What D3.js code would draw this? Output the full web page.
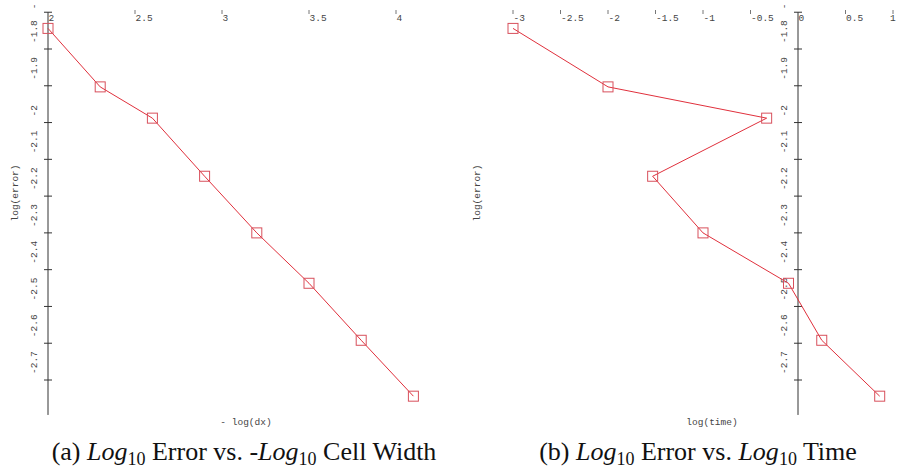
<!DOCTYPE html>
<html>
<head>
<meta charset="utf-8">
<script src="https://cdn.jsdelivr.net/npm/d3@7"></script>
<style>
  body { margin: 0; background: #fff; }
  svg { display: block; }
  .tick-label { font-family: "Liberation Mono", "DejaVu Sans Mono", monospace; font-size: 9.5px; fill: #444; }
  .caption { font-family: "Liberation Serif", "DejaVu Serif", serif; font-size: 26px; fill: #111; }
</style>
</head>
<body>
<div id="chart"></div>
<script>
// values
const negLogDx = [2, 2.3, 2.6, 2.9, 3.2, 3.5, 3.8, 4.1];
const logError = [-1.744, -1.903, -1.988, -2.146, -2.30, -2.437, -2.592, -2.744];
const logTime = [-3.0, -2.0, -0.33, -1.53, -1.0, -0.10, 0.25, 0.86];

const yTicks = [-1.7, -1.8, -1.9, -2, -2.1, -2.2, -2.3, -2.4, -2.5, -2.6, -2.7];
const xTicksA = [2, 2.5, 3, 3.5, 4];
const xTicksB = [-3, -2.5, -2, -1.5, -1, -0.5, 0, 0.5, 1];

const width = 897, height = 469;
const lineColor = "#e0303c";
const markColor = "#d8505c";

const svg = d3.select("#chart").append("svg")
  .attr("width", width)
  .attr("height", height);

const y = d3.scaleLinear().domain([-1.8, -2.7]).range([49, 380]);

function drawPanel(opts) {
  const g = svg.append("g");
  const x = opts.x;
  const axisX = x(opts.axisAt);
  const yTop = y(-1.7), yBottom = y(-2.795);

  // vertical axis line
  g.append("line")
    .attr("x1", axisX).attr("x2", axisX)
    .attr("y1", yTop).attr("y2", yBottom)
    .attr("stroke", "#333").attr("stroke-width", 1);

  // cross ticks
  g.selectAll(".ytick").data(yTicks).enter().append("line")
    .attr("x1", axisX - 4).attr("x2", axisX + 4)
    .attr("y1", d => y(d)).attr("y2", d => y(d))
    .attr("stroke", "#333").attr("stroke-width", 1);

  // rotated y labels, starting just above the tick
  // the top one (-1.7) is clipped by the page edge in the original, only its "-" shows
  g.selectAll(".ylab").data(yTicks).enter().append("text")
    .attr("class", "tick-label")
    .attr("transform", d => `translate(${axisX - 11}, ${y(d) - (d === -1.7 ? 3 : 6)}) rotate(-90)`)
    .text(d => d === -1.7 ? "-" : String(d));

  // x ticks (small marks at the top) and labels
  g.selectAll(".xtick").data(opts.xTicks).enter().append("line")
    .attr("x1", d => x(d)).attr("x2", d => x(d))
    .attr("y1", 10).attr("y2", 14)
    .attr("stroke", "#777").attr("stroke-width", 1)
    .attr("display", d => d === opts.axisAt ? "none" : null);

  g.selectAll(".xlab").data(opts.xTicks).enter().append("text")
    .attr("class", "tick-label")
    .attr("x", d => Math.min(x(d) + 0.5, width - 7))
    .attr("y", 21)
    .text(d => String(d));

  // axis titles
  g.append("text")
    .attr("class", "tick-label")
    .attr("text-anchor", "middle")
    .attr("transform", `translate(${opts.yTitleX}, 193) rotate(-90)`)
    .text("log(error)");

  g.append("text")
    .attr("class", "tick-label")
    .attr("text-anchor", "middle")
    .attr("x", opts.xTitleX)
    .attr("y", 425)
    .text(opts.xTitle);

  // data line and square markers
  const pts = opts.xs.map((v, i) => ({ x: v, y: logError[i] }));
  const line = d3.line().x(d => x(d.x)).y(d => y(d.y));

  g.append("path")
    .datum(pts)
    .attr("fill", "none")
    .attr("stroke", lineColor)
    .attr("stroke-width", 1)
    .attr("d", line);

  g.selectAll(".mark").data(pts).enter().append("rect")
    .attr("x", d => x(d.x) - 5)
    .attr("y", d => y(d.y) - 5)
    .attr("width", 10).attr("height", 10)
    .attr("fill", "none")
    .attr("stroke", markColor)
    .attr("stroke-width", 1);

  // caption
  const cap = g.append("text")
    .attr("class", "caption")
    .attr("text-anchor", "middle")
    .attr("x", opts.capX)
    .attr("y", 460);
  opts.caption.forEach(part => {
    const t = cap.append("tspan").text(part.t);
    if (part.i) t.attr("font-style", "italic");
    if (part.sub) t.attr("font-size", "18px").attr("dy", 5);
    if (part.back) t.attr("dy", -5);
  });
}

drawPanel({
  x: d3.scaleLinear().domain([2, 4]).range([48, 396]),
  axisAt: 2,
  xs: negLogDx,
  xTicks: xTicksA,
  yTitleX: 18,
  xTitleX: 246,
  xTitle: "- log(dx)",
  capX: 244,
  caption: [
    { t: "(a) " }, { t: "Log", i: true }, { t: "10", sub: true },
    { t: " Error vs. -", back: true }, { t: "Log", i: true }, { t: "10", sub: true },
    { t: " Cell Width", back: true }
  ]
});

drawPanel({
  x: d3.scaleLinear().domain([-3, 1]).range([513, 893]),
  axisAt: 0,
  xs: logTime,
  xTicks: xTicksB,
  yTitleX: 480,
  xTitleX: 712,
  xTitle: "log(time)",
  capX: 698,
  caption: [
    { t: "(b) " }, { t: "Log", i: true }, { t: "10", sub: true },
    { t: " Error vs. ", back: true }, { t: "Log", i: true }, { t: "10", sub: true },
    { t: " Time", back: true }
  ]
});
</script>
</body>
</html>
